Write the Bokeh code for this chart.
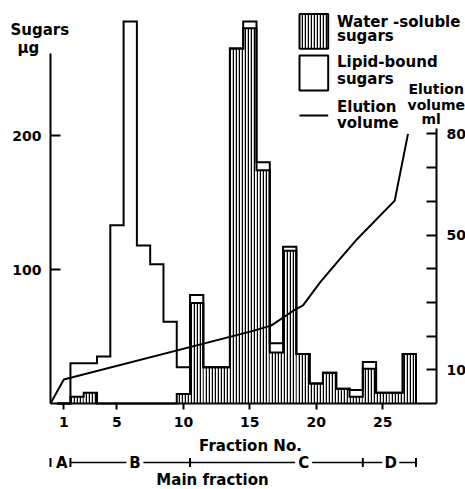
import numpy as np
from bokeh.plotting import figure
from bokeh.models import Range1d, LinearAxis, FixedTicker, Label
from bokeh.core.properties import value
from bokeh.embed import file_html
from bokeh.resources import INLINE

# ---------------- data ----------------
fractions = list(range(1, 28))
water_soluble = [0, 5, 8, 0, 0, 0, 0, 0, 0, 7, 75, 27, 27, 265, 280, 174, 38, 114,
                 37, 15, 23, 11, 5, 26, 8, 8, 37]
lipid_bound = [0, 25, 22, 35, 133, 285, 118, 104, 61, 20, 6, 0, 0, 0, 5, 6, 7, 3,
               0, 0, 0, 0, 5, 5, 0, 0, 0]

elution_fraction = [0, 1.0, 15.1, 16.6, 18.3, 19.0, 20.3, 21.8, 23.1, 25.9, 26.9]
elution_ml = [0, 7.1, 21.4, 23.1, 27.6, 29.1, 36.0, 43.0, 48.9, 60.2, 80.0]

fraction_ticks = [1, 5, 10, 15, 20, 25]
sugar_ticks = [100, 200]
ml_ticks = [10, 50, 80]
ml_minor_ticks = [20, 30, 40, 60, 70]

zone_names = ["A", "B", "C", "D"]
zone_bounds = [0.0, 1.5, 10.5, 23.5, 27.5]
zone_label_x = [0.85, 6.35, 19.05, 25.6]

# ---------------- layout / style ----------------
FONT = "DejaVu Sans"
W, H = 465, 489
X0, Y0 = 50, 403                      # pixel position of fraction 0 / value 0
SX, SY, SML = 13.29, 1.34, 3.37       # px per fraction, per µg, per ml


def fx(xr):  # pixel x -> fraction units
    return (xr - X0) / SX


def fy(yr):  # pixel y -> µg units
    return (Y0 - yr) / SY


p = figure(width=W, height=H,
           x_range=Range1d(fx(0), fx(W)), y_range=Range1d(fy(H), fy(0)),
           output_backend="svg", toolbar_location=None, x_axis_type=None,
           y_axis_type=None, min_border=0)
p.extra_y_ranges = {"ml": Range1d((Y0 - H) / SML, Y0 / SML)}
p.outline_line_color = None
p.background_fill_color = "white"
p.border_fill_color = "white"


def style(ax, tin, tout, standoff):
    ax.axis_line_width = 2
    ax.axis_line_color = "black"
    ax.major_tick_line_width = 2
    ax.major_tick_line_color = "black"
    ax.major_tick_in = tin
    ax.major_tick_out = tout
    ax.minor_tick_line_color = None
    ax.major_label_standoff = standoff
    ax.major_label_text_font = FONT
    ax.major_label_text_font_style = "bold"
    ax.major_label_text_font_size = "14px"
    ax.major_label_text_color = "black"


xaxis = LinearAxis(ticker=FixedTicker(ticks=fraction_ticks), fixed_location=0,
                   bounds=(0, fx(436)))
style(xaxis, 0, 6, 7)
p.add_layout(xaxis, "below")

yaxis = LinearAxis(ticker=FixedTicker(ticks=sugar_ticks), fixed_location=0,
                   bounds=(0, fy(53)))
style(yaxis, 10, 0, 9)
p.add_layout(yaxis, "left")

raxis = LinearAxis(y_range_name="ml", fixed_location=fx(436),
                   ticker=FixedTicker(ticks=ml_ticks, minor_ticks=ml_minor_ticks),
                   bounds=(0, (Y0 - 128) / SML))
style(raxis, 10, 0, 10)
raxis.minor_tick_line_color = "black"
raxis.minor_tick_line_width = 2
raxis.minor_tick_in = 10
raxis.minor_tick_out = 0
p.add_layout(raxis, "right")

# ---------------- bars ----------------
f = np.array(fractions, dtype=float)
w = np.array(water_soluble, dtype=float)
total = w + np.array(lipid_bound, dtype=float)

HATCH = dict(hatch_pattern="vertical_line", hatch_color="black", hatch_scale=3,
             hatch_weight=1.5)
p.quad(left=f - 0.5, right=f + 0.5, bottom=0, top=w, fill_color="white",
       line_color=None, **HATCH)


def envelope(v):
    xs, ys = [f[0] - 0.5], [0.0]
    for fi, vi in zip(f, v):
        xs += [fi - 0.5, fi + 0.5]
        ys += [vi, vi]
    xs.append(f[-1] + 0.5)
    ys.append(0.0)
    return xs, ys


ex, ey = envelope(total)
p.line(ex, ey, line_width=2, line_color="black", line_join="miter")
ex, ey = envelope(w)
p.line(ex, ey, line_width=2, line_color="black", line_join="miter")

# elution volume
p.line(elution_fraction, elution_ml, y_range_name="ml", line_width=2, line_color="black")

# ---------------- legend ----------------
p.quad(left=fx(299), right=fx(327.7), bottom=fy(48.3), top=fy(13.5), fill_color="white",
       line_color="black", line_width=2, **HATCH)
p.quad(left=fx(299), right=fx(327.7), bottom=fy(90), top=fy(55), fill_color="white",
       line_color="black", line_width=2)
p.line([fx(299), fx(327.7)], [fy(115), fy(115)], line_width=2, line_color="black")


def label(text, xr, yr, align="left", size="15px"):
    # yr is the vertical centre of the capital letters, in pixels
    p.add_layout(Label(x=fx(xr), y=fy(yr), text=text, text_font=FONT,
                       text_font_style="bold", text_font_size=size, text_align=align,
                       text_baseline="middle", text_color="black"))


legend_x = 336.5
label("Water -soluble", legend_x, 21.2)
label("sugars", legend_x, 35.2)
label("Lipid-bound", legend_x, 61.2)
label("sugars", legend_x, 78.8)
label("Elution", legend_x, 106.2)
label("volume", legend_x, 122.8)

# axis titles
label("Sugars", 10, 29.5)
label("μg", 17, 47.5)
label("Elution", 408, 88, size="14px")
label("volume", 407, 104.5, size="14px")
label("ml", 421, 118, size="14px")
label("Fraction No.", 250, 445.5, align="center")

# ---------------- fraction zones row ----------------
row_y = fy(462)
half_bar = 4.5 / SY
gap = 8.5 / SX
x0 = [zone_bounds[1]] + [zone_label_x[i] + gap for i in (1, 2, 3)]
x1 = [zone_label_x[i] - gap for i in (1, 2, 3)] + [zone_bounds[4]]
p.segment(x0=x0, y0=[row_y] * 4, x1=x1, y1=[row_y] * 4, line_width=1.5,
          line_color="black")
p.segment(x0=zone_bounds, y0=[row_y - half_bar] * 5, x1=zone_bounds,
          y1=[row_y + half_bar] * 5, line_width=2, line_color="black")
p.text(x=zone_label_x, y=[row_y] * 4, text=zone_names, text_font=value(FONT),
       text_font_style="bold", text_font_size="15px", text_align="center",
       text_baseline="middle", text_color="black")
label("Main fraction", 212, 479.5, align="center")

open("out.html", "w").write(file_html(p, INLINE))
